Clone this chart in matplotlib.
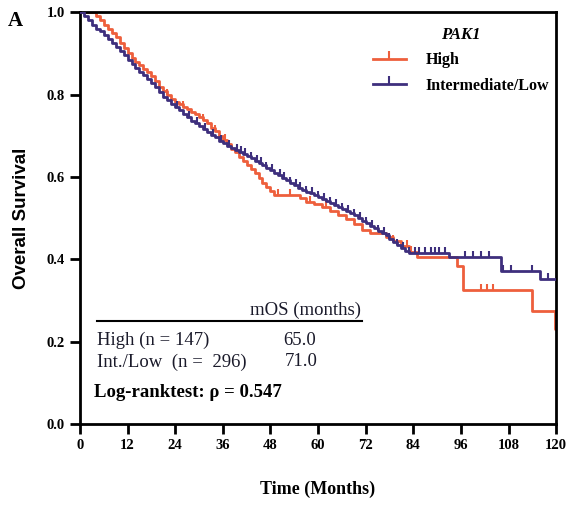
import numpy as np
import matplotlib
matplotlib.use("Agg")
import matplotlib.pyplot as plt
from matplotlib.path import Path
from matplotlib.lines import Line2D

# ---- data ----
high_t = [0, 3, 4, 5, 6, 7, 8, 9, 10, 11, 12, 13, 14, 15, 16, 17, 18, 19, 20, 21,
          22, 23, 24, 25, 26, 27, 28, 29, 30, 31, 32, 33, 34, 35, 36, 37, 38, 39,
          40, 41, 42, 43, 44, 45, 46, 47, 48, 49, 55.5, 57, 59, 61, 63, 65, 67,
          69, 71, 73, 77, 79, 81, 83, 85, 95, 96.5, 114, 119.8, 120]
high_s = [1.0, 1.0, 0.99, 0.98, 0.97, 0.96, 0.95, 0.94, 0.925, 0.912, 0.900, 0.890,
          0.880, 0.872, 0.862, 0.855, 0.845, 0.832, 0.818, 0.808, 0.798, 0.790,
          0.782, 0.776, 0.770, 0.764, 0.758, 0.752, 0.745, 0.738, 0.730, 0.720,
          0.712, 0.700, 0.690, 0.680, 0.668, 0.660, 0.648, 0.640, 0.630, 0.620,
          0.610, 0.598, 0.585, 0.575, 0.565, 0.556, 0.548, 0.540, 0.534, 0.527,
          0.518, 0.508, 0.498, 0.485, 0.472, 0.463, 0.455, 0.445, 0.432, 0.418,
          0.406, 0.385, 0.325, 0.275, 0.23, 0.23]
high_cens = [22, 26, 31, 34, 36.5, 50, 53, 58, 62, 79, 82.5, 83.5, 101, 102.5, 104]

low_t = [0, 1, 2, 3, 4, 5, 6, 7, 8, 9, 10, 11, 12, 13, 14, 15, 16, 17, 18, 19, 20,
         21, 22, 23, 24, 25, 26, 27, 28, 29, 30, 31, 32, 33, 34, 35, 36, 37, 38,
         39, 40, 41, 42, 43, 44, 45, 46, 47, 48, 49, 50, 51, 52, 53, 54, 55, 56,
         57, 58, 59, 60, 61, 62, 63, 64, 65, 66, 67, 68, 69, 70, 71, 72, 73, 74,
         75, 76, 77, 78, 79, 80, 81, 82, 83, 93, 106, 116, 120]
low_s = [1.0, 0.99, 0.98, 0.97, 0.96, 0.955, 0.945, 0.935, 0.925, 0.915, 0.905,
         0.895, 0.885, 0.875, 0.865, 0.855, 0.847, 0.838, 0.828, 0.818, 0.806,
         0.795, 0.786, 0.778, 0.770, 0.762, 0.754, 0.745, 0.737, 0.730, 0.723,
         0.716, 0.709, 0.702, 0.696, 0.688, 0.682, 0.676, 0.670, 0.665, 0.661,
         0.655, 0.650, 0.645, 0.640, 0.634, 0.628, 0.623, 0.617, 0.610, 0.604,
         0.598, 0.592, 0.586, 0.580, 0.574, 0.569, 0.564, 0.560, 0.556, 0.551,
         0.546, 0.542, 0.537, 0.532, 0.527, 0.522, 0.517, 0.512, 0.507, 0.500,
         0.494, 0.488, 0.482, 0.476, 0.470, 0.464, 0.458, 0.450, 0.443, 0.436,
         0.428, 0.420, 0.416, 0.405, 0.372, 0.352, 0.352]
low_cens = [24.5, 27.5, 29.5, 31.5, 33.5, 35.5, 37.5, 39.5, 40.5, 41.5, 43, 44.5,
            45.5, 47, 48.5, 50.5, 51.5, 53, 54.5, 55.5, 57, 58.5, 60, 61.5, 63,
            64.5, 66, 67.5, 69, 70.5, 72, 73.5, 75, 76.5, 78, 80, 81.5, 83, 84.5,
            85.5, 87, 88.5, 89.5, 90.5, 92, 97, 99, 101, 103, 106.5, 108.5, 114,
            118]

xticks = [0, 12, 24, 36, 48, 60, 72, 84, 96, 108, 120]
yticks = [0.0, 0.2, 0.4, 0.6, 0.8, 1.0]

c_high = "#EE5F3C"
c_low = "#3E2F7D"

serif = ["Liberation Serif", "DejaVu Serif"]

fig = plt.figure(figsize=(5.71, 5.08), dpi=100)
ax = fig.add_axes([0.140, 0.165, 0.834, 0.811])

tick_marker = Path([(0, 0), (0, 1)], [Path.MOVETO, Path.LINETO])


def step_value(ts, ss, x):
    i = np.searchsorted(np.asarray(ts), x, side="right") - 1
    return np.asarray(ss)[i]


for ts, ss, cens, col, z in [(high_t, high_s, high_cens, c_high, 2),
                             (low_t, low_s, low_cens, c_low, 3)]:
    ax.step(ts, ss, where="post", color=col, lw=2.0, zorder=z)
    cy = [step_value(ts, ss, c) for c in cens]
    ax.plot(cens, cy, ls="none", marker=tick_marker, markersize=9,
            markeredgewidth=1.5, color=col, zorder=z)

ax.set_xlim(0, 120)
ax.set_ylim(0, 1.0)
ax.set_xticks(xticks)
ax.set_yticks(yticks)
ax.set_yticklabels([f"{v:.1f}" for v in yticks])
for sp in ax.spines.values():
    sp.set_linewidth(2)
ax.tick_params(direction="out", length=7, width=2, pad=4)
for lab in ax.get_xticklabels() + ax.get_yticklabels():
    lab.set_fontfamily(serif)
    lab.set_fontweight("bold")
    lab.set_fontsize(10.5)

ax.set_xlabel("Time (Months)", fontfamily=serif, fontweight="bold",
              fontsize=13, labelpad=20)
ax.set_ylabel("Overall Survival", fontfamily=["Liberation Sans", "DejaVu Sans"],
              fontweight="bold", fontsize=13.5, labelpad=12)

fig.text(0.013, 0.958, "A", fontfamily=serif, fontweight="bold", fontsize=15,
         va="center")

# legend
handles = [Line2D([], [], color=c_high, lw=2, marker=tick_marker, markersize=12,
                  markeredgewidth=1.5),
           Line2D([], [], color=c_low, lw=2, marker=tick_marker, markersize=12,
                  markeredgewidth=1.5)]
leg = ax.legend(handles, ["High", "Intermediate/Low"], loc="upper right",
                bbox_to_anchor=(1.015, 1.0), frameon=False, numpoints=1,
                title="PAK1", handlelength=2.1, handletextpad=1.2,
                labelspacing=0.6,
                prop={"family": serif, "weight": "bold", "size": 11.5})
leg.get_title().set_fontfamily(serif)
leg.get_title().set_fontstyle("italic")
leg.get_title().set_fontweight("bold")
leg.get_title().set_fontsize(12)

# table text
txt = dict(fontfamily=serif, fontsize=13.5, color="#1a1a2a", va="center")
ax.text(42.9, 0.277, "mOS (months)", **txt)
ax.plot([4.3, 71], [0.25, 0.25], color="black", lw=1.5, clip_on=False)
ax.text(4.3, 0.204, "High (n = 147)", **txt)
ax.text(51.2, 0.204, "65.0", **txt)
ax.text(4.3, 0.151, "Int./Low  (n =  296)", **txt)
ax.text(51.5, 0.151, "71.0", **txt)
ax.text(3.5, 0.078, "Log-ranktest: ρ = 0.547", fontfamily=serif,
        fontsize=13.5, fontweight="bold", color="black", va="center")

fig.savefig("out.png", dpi=100)
